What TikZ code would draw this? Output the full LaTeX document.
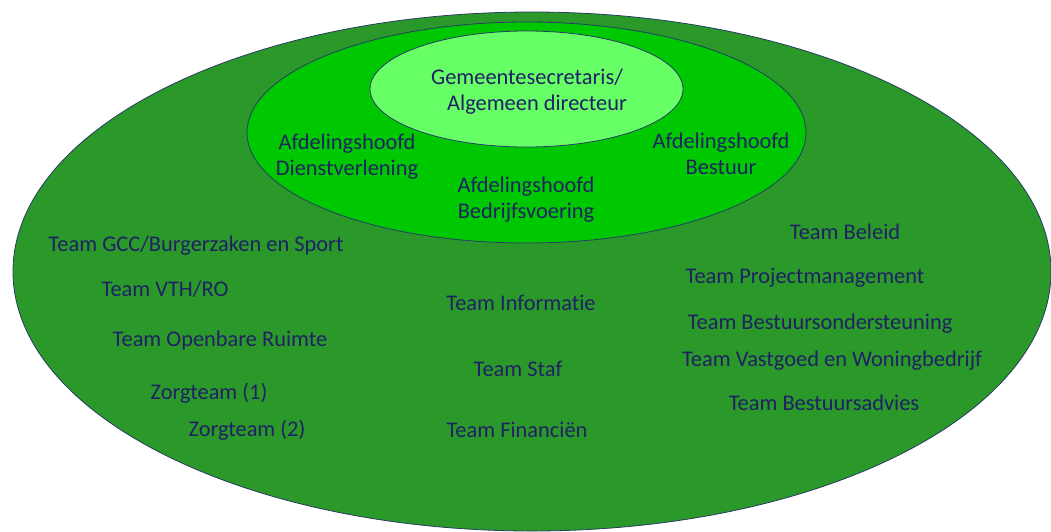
\documentclass[tikz,border=0pt]{standalone}
\usepackage{fontspec}
\setmainfont{Carlito}[RawFeature=-liga]
\definecolor{outerg}{RGB}{43,152,42}
\definecolor{midg}{RGB}{0,200,0}
\definecolor{innerg}{RGB}{102,255,102}
\definecolor{navy}{RGB}{31,33,100}
\definecolor{edge}{RGB}{40,60,100}
\begin{document}
\begin{tikzpicture}[x=1pt,y=-1pt,
  ring/.style={draw=edge,line width=0.8pt},
  lbl/.style={text=navy,font=\fontsize{22.4}{27.3}\selectfont,inner sep=0pt,anchor=base},
  lbl2/.style={text=navy,font=\fontsize{22.4}{26}\selectfont,inner sep=0pt,align=center}]
\useasboundingbox (0,0) rectangle (1051,531);
\fill[white] (0,0) rectangle (1051,531);
\draw[ring,fill=outerg] (532,271.5) ellipse [x radius=519pt,y radius=259.5pt];
\draw[ring,fill=midg] (526.5,132.5) ellipse [x radius=279.5pt,y radius=110.5pt];
\draw[ring,fill=innerg] (526.5,89) ellipse [x radius=156.5pt,y radius=58pt];
% top
\node[lbl] (gs1) at (527,84) {Gemeentesecretaris/};
\node[lbl] (gs2) at (537,110) {Algemeen directeur};
\node[lbl2] (ahd) at (347,157) {Afdelingshoofd\\Dienstverlening};
\node[lbl2] (ahb) at (526,200) {Afdelingshoofd\\Bedrijfsvoering};
\node[lbl2] (ahs) at (721,154) {Afdelingshoofd\\Bestuur};
% left
\node[lbl] (t1) at (196,251) {Team GCC/Burgerzaken en Sport};
\node[lbl] (t2) at (165,296) {Team VTH/RO};
\node[lbl] (t3) at (220,346) {Team Openbare Ruimte};
\node[lbl] (t4) at (209,399) {Zorgteam (1)};
\node[lbl] (t5) at (247,436) {Zorgteam (2)};
% middle
\node[lbl] (m1) at (521,310) {Team Informatie};
\node[lbl] (m2) at (518,376) {Team Staf};
\node[lbl] (m3) at (517,437) {Team Financiën};
% right
\node[lbl] (r1) at (845,239) {Team Beleid};
\node[lbl] (r2) at (805,283) {Team Projectmanagement};
\node[lbl] (r3) at (820,329) {Team Bestuursondersteuning};
\node[lbl] (r4) at (832,366) {Team Vastgoed en Woningbedrijf};
\node[lbl] (r5) at (824,410) {Team Bestuursadvies};
\end{tikzpicture}
\end{document}
